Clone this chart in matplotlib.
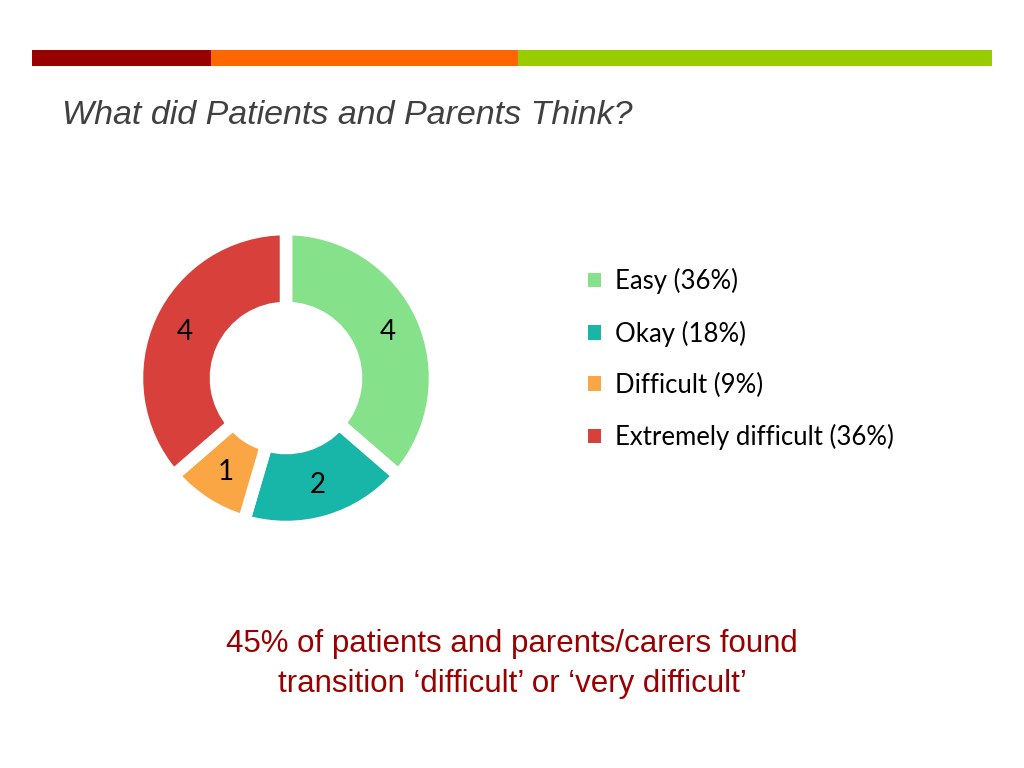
import matplotlib.pyplot as plt
from matplotlib.patches import Patch

# survey answers
categories = ["Easy", "Okay", "Difficult", "Extremely difficult"]
counts = [4, 2, 1, 4]
colours = ["#86E28A", "#17B6A9", "#FBA645", "#D8403B"]

title = "What did Patients and Parents Think?"
footer = "45% of patients and parents/carers found\ntransition \u2018difficult\u2019 or \u2018very difficult\u2019"

# decorative header stripe (pixel edges) and colours
stripe_edges = [32, 211, 518, 992]
stripe_colours = ["#990000", "#FF6600", "#99CC00"]

W, H = 1024, 768
fig = plt.figure(figsize=(W / 100, H / 100), dpi=100)

# header stripe
sax = fig.add_axes([0, (H - 66) / H, 1, 16 / H])
for i, c in enumerate(stripe_colours):
    sax.barh(0, stripe_edges[i + 1] - stripe_edges[i], left=stripe_edges[i],
             height=1, color=c, edgecolor="none")
sax.set_xlim(0, W)
sax.set_ylim(-0.5, 0.5)
sax.axis("off")

fig.text(62 / W, 1 - 116 / H, title, fontsize=24.5, style="italic",
         family="Liberation Sans", color="#404040", va="center", ha="left")

# donut
cx, cy, r = 286, 378, 149
ax = fig.add_axes([(cx - r) / W, (H - cy - r) / H, 2 * r / W, 2 * r / H])
total = sum(counts)
wedges, _, autotexts = ax.pie(
    counts, colors=colours, startangle=90, counterclock=False,
    autopct=lambda p: "%d" % round(p * total / 100), pctdistance=0.75,
    wedgeprops=dict(width=0.53, edgecolor="white", linewidth=9),
    textprops=dict(fontsize=20, family="Lato", color="black"))
ax.set_xlim(-1, 1)
ax.set_ylim(-1, 1)
ax.set_aspect("equal")

labels = ["%s (%d%%)" % (c, round(n * 100 / total)) for c, n in zip(categories, counts)]
handles = [Patch(facecolor=c, edgecolor="none") for c in colours]
fig.legend(handles, labels, loc="upper left", bbox_to_anchor=(565 / W, 1 - 245 / H),
           frameon=False, prop=dict(family="Lato", size=18.5),
           handlelength=0.5, handleheight=0.5, handletextpad=0.55,
           labelspacing=1.02)

fig.text(512 / W, 1 - 664 / H, footer, fontsize=22.5, family="Liberation Sans",
         color="#990000", ha="center", va="center", linespacing=1.46)

fig.savefig("out.png", dpi=100)
